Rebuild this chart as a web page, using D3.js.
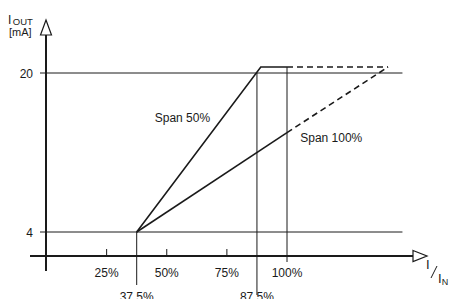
<!DOCTYPE html>
<html>
<head>
<meta charset="utf-8">
<script src="https://cdn.jsdelivr.net/npm/d3@7"></script>
<style>
  body { margin: 0; background: #fff; }
  text { font-family: "Liberation Sans", Arial, sans-serif; fill: #1a1a1a; }
</style>
</head>
<body>
<svg id="chart" width="449" height="299"></svg>
<script>
// chart values
const xTicks = [25, 50, 75, 100];
const xMarkers = [37.5, 87.5];
const yTicks = [4, 20];
const span50Solid = [[37.5, 4], [89.1, 20.6], [100, 20.6]];
const span50Dash = [[100, 20.6], [142, 20.6]];
const span100Solid = [[37.5, 4], [100, 14]];
const span100Dash = [[100, 14], [142, 20.6]];
const labels = [
  {text: "Span 50%", x: 45, y: 15.1},
  {text: "Span 100%", x: 105.5, y: 13.05}
];

const svg = d3.select('#chart');
const x = d3.scaleLinear().domain([0, 100]).range([46.5, 287]);
const y = d3.scaleLinear().domain([4, 20]).range([232, 73]);
const ink = "#1a1a1a";

// horizontal reference lines (with tick stub left of axis)
svg.selectAll(".hline").data(yTicks).enter().append("line")
  .attr("x1", 40).attr("x2", x(148))
  .attr("y1", d => y(d)).attr("y2", d => y(d))
  .attr("stroke", ink).attr("stroke-width", 1);

svg.selectAll(".ylab").data(yTicks).enter().append("text")
  .attr("x", 33).attr("y", d => y(d) + 4.5)
  .attr("text-anchor", "end").attr("font-size", 12)
  .text(d => d);

// vertical marker lines
svg.append("line").attr("x1", x(37.5)).attr("x2", x(37.5))
  .attr("y1", y(4)).attr("y2", 285).attr("stroke", ink);
svg.append("line").attr("x1", x(87.5)).attr("x2", x(87.5))
  .attr("y1", y(20)).attr("y2", 295).attr("stroke", ink);
svg.append("line").attr("x1", x(100)).attr("x2", x(100))
  .attr("y1", y(20.6)).attr("y2", 262).attr("stroke", ink);

// x axis
const axisY = 256;
svg.append("line").attr("x1", 30).attr("x2", 413)
  .attr("y1", axisY).attr("y2", axisY)
  .attr("stroke", ink).attr("stroke-width", 2);
svg.append("path")
  .attr("d", `M413,${axisY - 5.5}L427,${axisY}L413,${axisY + 5.5}Z`)
  .attr("fill", "#fff").attr("stroke", ink).attr("stroke-width", 1.2);

svg.selectAll(".xtick").data(xTicks.filter(d => d < 100)).enter().append("line")
  .attr("x1", d => x(d)).attr("x2", d => x(d))
  .attr("y1", axisY - 7).attr("y2", axisY)
  .attr("stroke", ink);

svg.selectAll(".xlab").data(xTicks).enter().append("text")
  .attr("x", d => x(d)).attr("y", 277)
  .attr("text-anchor", "middle").attr("font-size", 12)
  .text(d => d + "%");
svg.selectAll(".mlab").data(xMarkers).enter().append("text")
  .attr("x", d => x(d)).attr("y", 301)
  .attr("text-anchor", "middle").attr("font-size", 12)
  .text(d => d + "%");

// y axis
const axisX = 46;
svg.append("line").attr("x1", axisX).attr("x2", axisX)
  .attr("y1", 271).attr("y2", 35)
  .attr("stroke", ink).attr("stroke-width", 2);
svg.append("path")
  .attr("d", `M${axisX - 5.5},35L${axisX},20L${axisX + 5.5},35Z`)
  .attr("fill", "#fff").attr("stroke", ink).attr("stroke-width", 1.2);

// curves
const line = d3.line().x(d => x(d[0])).y(d => y(d[1]));
[[span50Solid, null], [span50Dash, "6,4"], [span100Solid, null], [span100Dash, "6,4"]]
  .forEach(([pts, dash]) => {
    svg.append("path").attr("d", line(pts))
      .attr("fill", "none").attr("stroke", ink).attr("stroke-width", 1.6)
      .attr("stroke-dasharray", dash);
  });

svg.selectAll(".clab").data(labels).enter().append("text")
  .attr("x", d => x(d.x)).attr("y", d => y(d.y))
  .attr("font-size", 12).text(d => d.text);

// axis titles
const yt = svg.append("text").attr("x", 8).attr("y", 23.5).attr("font-size", 12);
yt.append("tspan").text("I");
yt.append("tspan").attr("font-size", 9.5).attr("dx", 1.5).attr("dy", 1).text("OUT");
svg.append("text").attr("x", 9).attr("y", 35.5).attr("font-size", 11).text("[mA]");

svg.append("text").attr("x", 426).attr("y", 269).attr("font-size", 13).text("I");
svg.append("line").attr("x1", 431).attr("y1", 278).attr("x2", 437).attr("y2", 266)
  .attr("stroke", ink).attr("stroke-width", 1);
const xt = svg.append("text").attr("x", 438).attr("y", 283).attr("font-size", 13);
xt.append("tspan").text("I");
xt.append("tspan").attr("font-size", 9).attr("dy", 2).text("N");
</script>
</body>
</html>
